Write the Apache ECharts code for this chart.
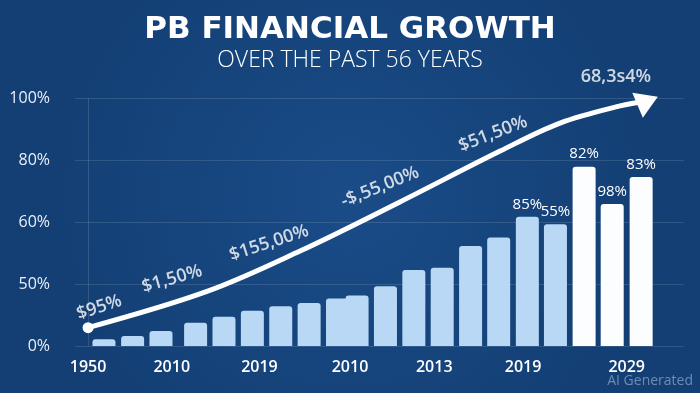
<!DOCTYPE html>
<html>
<head>
<meta charset="utf-8">
<script src="https://cdn.jsdelivr.net/npm/echarts@6/dist/echarts.min.js"></script>
<style>
html,body{margin:0;padding:0;background:#174780;}
#c{width:700px;height:393px;}
</style>
</head>
<body>
<div id="c"></div>
<script>
// ---- data ----
const yTickLabels = ['0%', '50%', '60%', '80%', '100%'];
const xTickPos = [0, 2.95, 6.04, 9.23, 12.2, 15.33, 18.98];
const xTickLabels = ['1950', '2010', '2019', '2010', '2013', '2019', '2029'];

const barPos = [0.56, 1.57, 2.57, 3.79, 4.79, 5.79, 6.79, 7.79, 8.79, 9.48,
                10.48, 11.48, 12.48, 13.48, 14.47, 15.48, 16.47, 17.48, 18.47, 19.49];
const barValues = [2.7, 4.0, 6.0, 9.4, 11.8, 14.2, 16.0, 17.3, 19.2, 20.4,
                   24.1, 30.6, 31.6, 40.3, 43.8, 52.1, 49.1, 72.3, 57.3, 68.1];
const barKind = ['actual','actual','actual','actual','actual','actual','actual','actual','actual','actual',
                 'actual','actual','actual','actual','actual','actual','actual','forecast','forecast','forecast'];
const barLabels = ['', '', '', '', '', '', '', '', '', '',
                   '', '', '', '', '', '85%', '55%', '82%', '98%', '83%'];

const trendX = [0, 4.19, 7.47, 10.99, 14.52, 16.63, 18.75, 19.72];
const trendY = [7.4, 22.0, 38.3, 58.1, 78.6, 89.9, 96.8, 98.8];

const trendLabels = ['$95%', '$1,50%', '$155,00%', '-$,55,00%', '$51,50%', '68,3s4%'];
const trendLabelX = [0.39, 2.96, 6.38, 10.29, 14.27, 18.6];
const trendLabelY = [15.5, 27.0, 41.5, 64.1, 85.5, 108.5];
const trendLabelAngle = [18, 16, 18, 22, 21, 0];

// ---- chart ----
const chart = echarts.init(document.getElementById('c'), null, {renderer: 'canvas'});

const lastIdx = trendX.length - 1;
const lineData = trendX.map((x, i) => {
  const item = {value: [x, trendY[i]]};
  if (i === 0) { item.symbol = 'circle'; item.symbolSize = 11; }
  else if (i === lastIdx) { item.symbol = 'triangle'; item.symbolSize = [27, 22]; item.symbolRotate = -67; }
  else { item.symbol = 'none'; }
  return item;
});

const option = {
  backgroundColor: {
    type: 'radial', x: 0.5, y: 0.5, r: 0.75,
    colorStops: [{offset: 0, color: '#1a4c88'}, {offset: 1, color: '#133f74'}]
  },
  animation: false,
  title: {
    text: 'PB FINANCIAL GROWTH',
    subtext: 'OVER THE PAST 56 YEARS',
    left: 'center',
    top: 9,
    itemGap: 4,
    textStyle: {color: '#ffffff', fontSize: 31, fontWeight: 'bold', fontFamily: 'DejaVu Sans'},
    subtextStyle: {color: '#ffffff', fontSize: 23, fontWeight: 300, fontFamily: 'Open Sans'}
  },
  grid: {left: 75, right: 16, top: 98, bottom: 47},
  xAxis: {
    type: 'value', min: -0.46, max: 21,
    axisLine: {show: false}, axisTick: {show: false}, splitLine: {show: false},
    axisLabel: {
      customValues: xTickPos,
      formatter: v => { const i = xTickPos.indexOf(v); return i >= 0 ? xTickLabels[i] : ''; },
      color: '#ffffff', fontSize: 16, fontWeight: 600, fontFamily: 'Open Sans', margin: 13
    }
  },
  yAxis: {
    type: 'value', min: 0, max: 100, interval: 25,
    axisLine: {show: false}, axisTick: {show: false},
    splitLine: {lineStyle: {color: 'rgba(255,255,255,0.12)', width: 1}},
    axisLabel: {
      formatter: v => yTickLabels[Math.round(v / 25)],
      color: '#e9eff8', fontSize: 16, fontWeight: 500, fontFamily: 'Open Sans', margin: 25
    }
  },
  series: [
    {
      type: 'bar',
      barWidth: 23,
      z: 2,
      data: barPos.map((x, i) => ({
        value: [x, barValues[i]],
        itemStyle: {
          color: barKind[i] === 'forecast' ? '#fbfdff' : '#b8d8f5',
          borderRadius: [3, 3, 0, 0]
        }
      })),
      label: {
        show: true, position: 'top', distance: 5,
        color: '#ffffff', fontSize: 15, fontWeight: 500, fontFamily: 'Open Sans',
        formatter: p => barLabels[p.dataIndex]
      },
      markLine: {
        silent: true, symbol: 'none', label: {show: false},
        lineStyle: {color: 'rgba(255,255,255,0.13)', type: 'solid', width: 1},
        data: [{xAxis: 0}]
      }
    },
    {
      type: 'line',
      z: 5,
      smooth: 0.35,
      showSymbol: true,
      data: lineData,
      lineStyle: {color: '#ffffff', width: 5, cap: 'round'},
      itemStyle: {color: '#ffffff', borderWidth: 0}
    },
    {
      type: 'scatter',
      z: 6,
      clip: false,
      silent: true,
      symbol: 'circle',
      symbolSize: 1,
      itemStyle: {color: 'rgba(0,0,0,0)'},
      data: trendLabels.map((t, i) => ({
        value: [trendLabelX[i], trendLabelY[i]],
        label: {show: true, formatter: t, rotate: trendLabelAngle[i]}
      })),
      label: {
        show: true, position: 'inside',
        color: '#ffffff', fontSize: 18, fontWeight: 600, fontFamily: 'Open Sans'
      }
    }
  ],
  graphic: [
    {
      type: 'text', right: 7, bottom: 5, silent: true,
      style: {text: 'AI Generated', fill: 'rgba(185,200,225,0.55)', font: '14px "Open Sans"'}
    }
  ]
};

chart.setOption(option);
</script>
</body>
</html>
